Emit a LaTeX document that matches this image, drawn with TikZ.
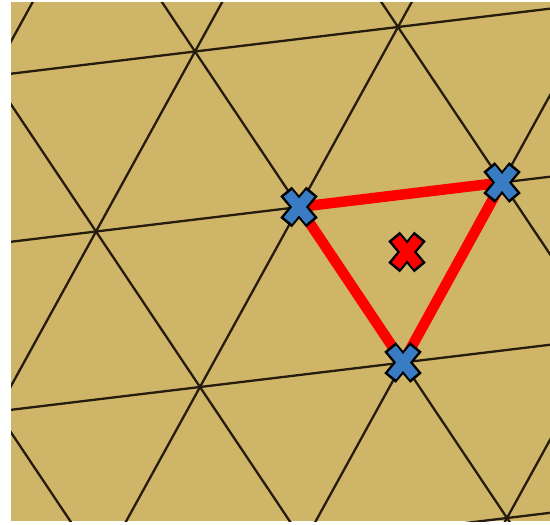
\documentclass[tikz,border=0pt]{standalone}
\usepackage{xcolor}
\usepackage{tikz}
\usetikzlibrary{calc}

\definecolor{sand}{RGB}{206,181,104}
\definecolor{gridink}{RGB}{38,28,14}
\definecolor{markblue}{RGB}{58,124,196}
\definecolor{markred}{RGB}{255,0,0}

\begin{document}
\begin{tikzpicture}[x=0.02cm,y=-0.02cm,
  gridline/.style={draw=gridink,line width=0.046cm},
  edge/.style={draw=markred,line width=0.21cm,line join=round},
  cross/.pic={
    \draw[black,line width=0.3cm] (-13,-15.5) -- (13,15.5) (13,-15.5) -- (-13,15.5);
    \draw[#1,line width=0.21cm] (-11.1,-13.6) -- (11.1,13.6) (11.1,-13.6) -- (-11.1,13.6);
  }
]
\fill[white] (0,0) rectangle (550,524);
\fill[sand] (11,2) rectangle (550,521);
% triangular grid
\begin{scope}
\clip (11,2) rectangle (550,521);
\foreach \j in {-1,...,2}
  \draw[gridline] ({299+104*\j-203*4},{207+155.5*\j+24.5*4}) -- ({299+104*\j+203*4},{207+155.5*\j-24.5*4});
\foreach \i in {-3,...,2}
  \draw[gridline] ({299+203*\i-104*3},{207-24.5*\i-155.5*3}) -- ({299+203*\i+104*3},{207-24.5*\i+155.5*3});
\foreach \i in {-2,...,4}
  \draw[gridline] ({299+203*\i+99*3},{207-24.5*\i-180*3}) -- ({299+203*\i-99*3},{207-24.5*\i+180*3});
\end{scope}
% triangle
\coordinate (p1) at (299,207);
\coordinate (p2) at (502,182.5);
\coordinate (p3) at (403,362.5);
\coordinate (mid) at (407,252);
\draw[edge] (p1) -- (p2) -- (p3) -- cycle;
\pic at (p1) {cross=markblue};
\pic at (p2) {cross=markblue};
\pic at (p3) {cross=markblue};
\pic at (mid) {cross=markred};
\end{tikzpicture}
\end{document}
